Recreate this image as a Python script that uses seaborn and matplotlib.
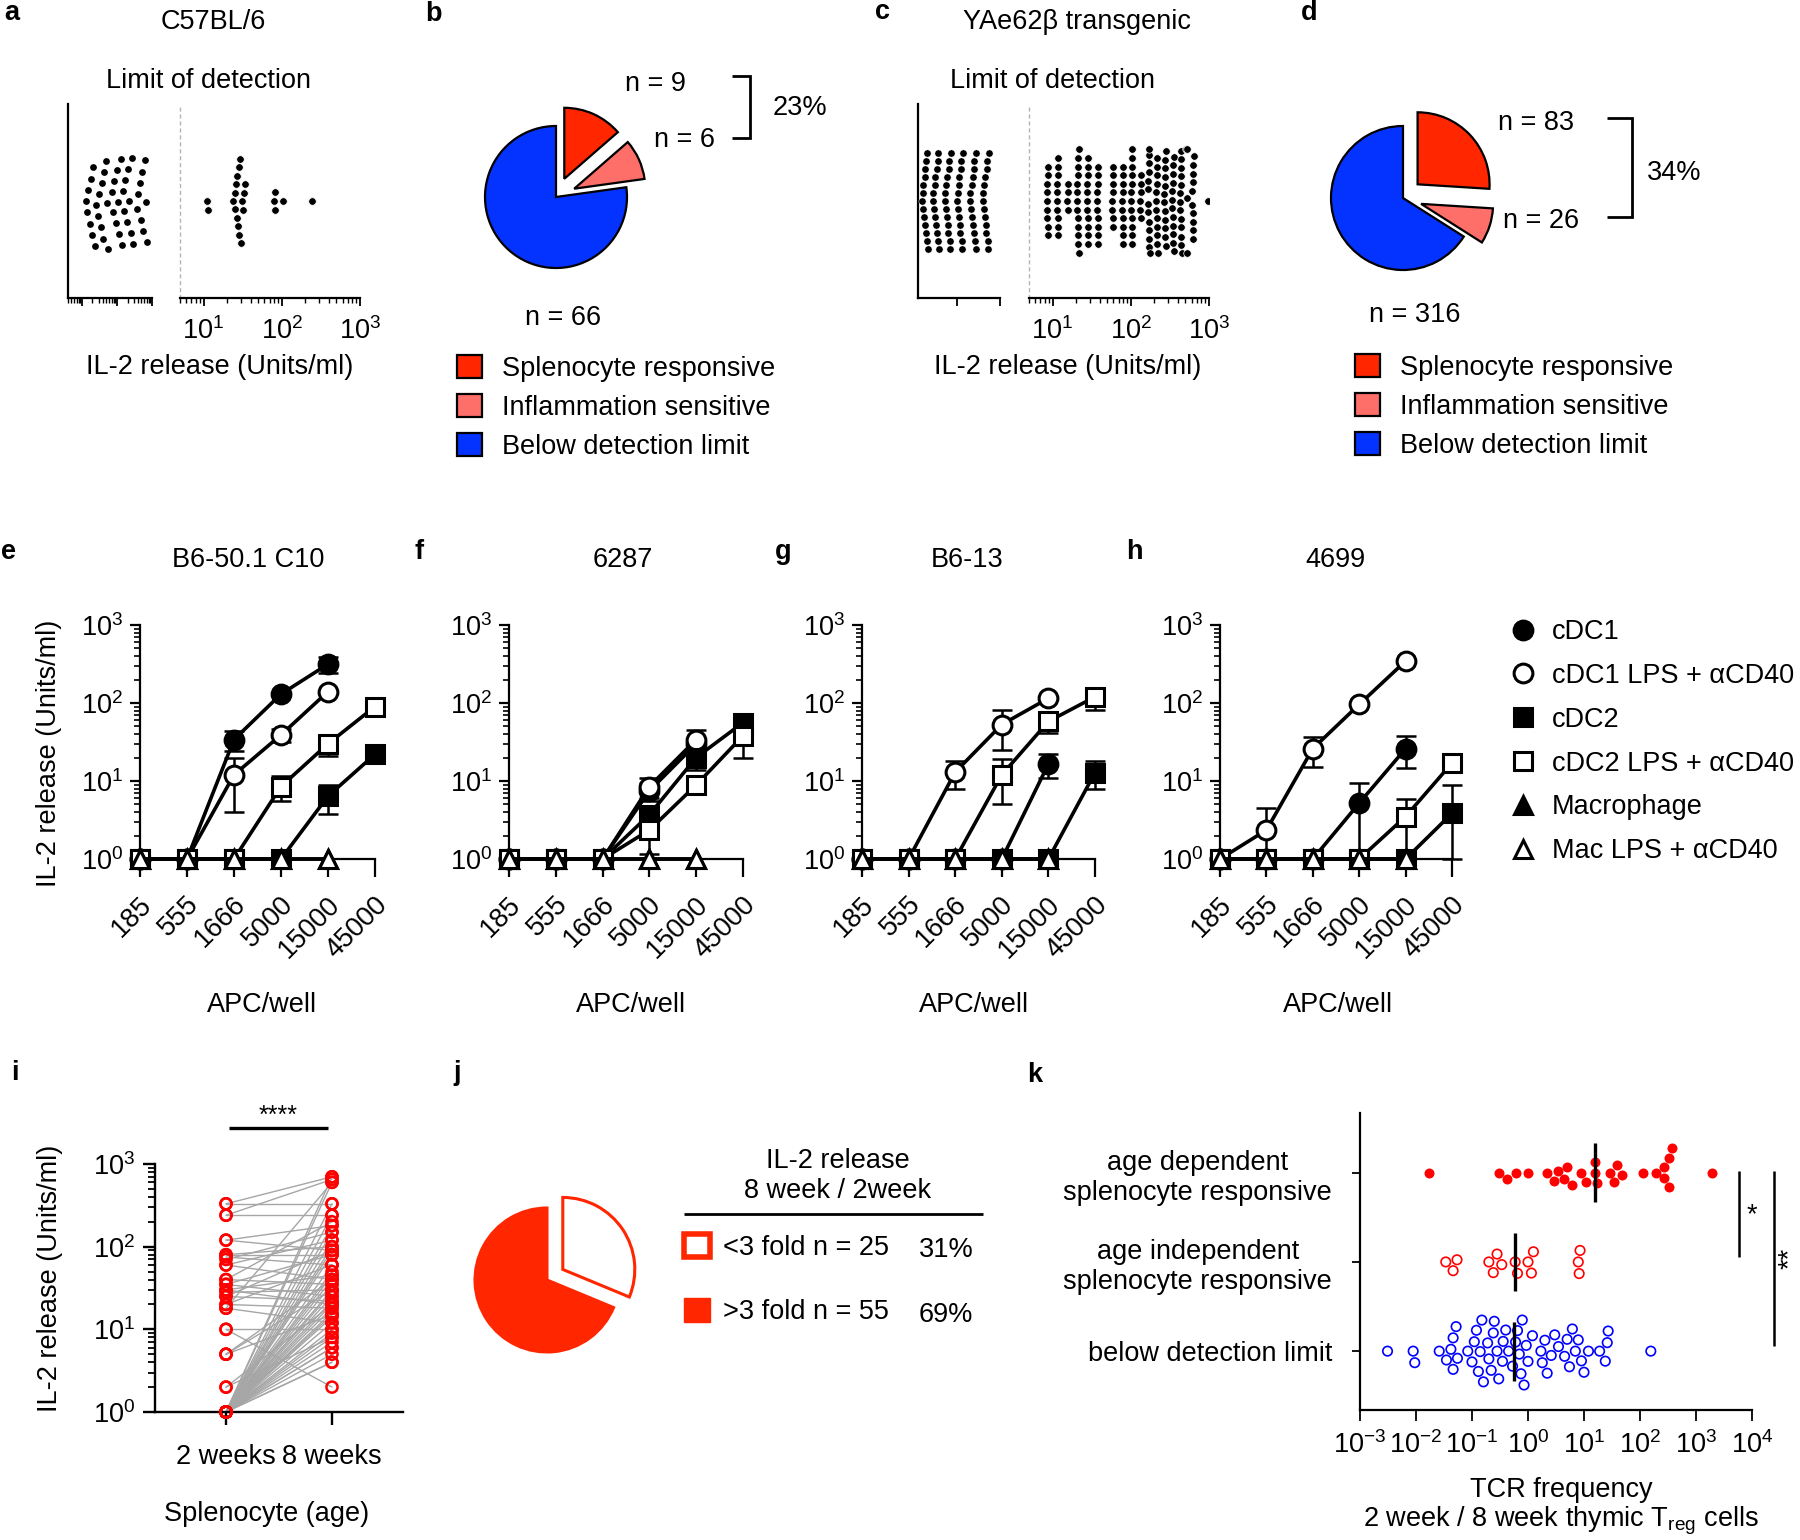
import numpy as np
import pandas as pd
import matplotlib
matplotlib.use("Agg")
import matplotlib.pyplot as plt
from matplotlib.lines import Line2D
from matplotlib.patches import Patch
from matplotlib.ticker import NullFormatter
from matplotlib.transforms import ScaledTranslation
import seaborn as sns

W, H = 1800, 1540
FS = 19.5
RED = "#FF2600"
SALMON = "#FF6F69"
BLUE = "#0433FF"
nan = np.nan

# ---------------- a / c : IL-2 release of single hybridomas ----------------
a_below = [13, 14, 15.3, 16.6, 18, 19.6, 21.3, 23.2, 25.3,
           29, 31.5, 34, 37, 40, 44, 48, 52, 56,
           72, 78, 85, 92, 100, 109, 118, 128, 140,
           148, 160, 175, 190, 207, 225, 245, 266, 290,
           373, 405, 440, 480, 520, 565, 615, 670, 730]
a_resp = [11, 11.3, 24, 25, 25.5, 26, 26.5, 27, 27.5, 28, 28.5, 29, 30, 31, 32,
          33, 34, 80, 81, 82, 105, 245]

c_below = [2.45, 2.6, 2.7, 2.85, 3.0, 3.2, 3.4, 3.55, 3.75, 3.95, 4.2, 4.4, 4.65,
           7.9, 8.3, 8.8, 9.3, 9.8, 10.3, 10.9, 11.5, 12.1, 12.8, 13.5, 14.2, 15,
           28, 29.5, 31, 33, 35, 37, 39, 41, 43, 45.5, 48, 50.5, 53,
           102, 108, 114, 120, 126, 133, 140, 148, 156, 165, 174, 183, 193,
           408, 430, 455, 480, 505, 535, 565, 595, 625, 660, 700, 740, 780,
           1620, 1710, 1800, 1900, 2000, 2120, 2230, 2350, 2480, 2620, 2760, 2910, 3070]
c_resp = [8.4, 8.5, 8.5, 8.6, 8.6, 8.7, 8.7, 8.8, 8.8,
          11.3, 11.4, 11.5, 11.5, 11.6, 11.6, 11.7, 11.8, 11.8, 11.9,
          15.4, 15.6, 15.7, 15.9,
          20.5, 20.6, 20.7, 20.8, 20.9, 21, 21, 21.1, 21.2, 21.3, 21.4, 21.5, 21.6,
          27.5, 27.6, 27.7, 27.8, 28, 28, 28.1, 28.2, 28.4, 28.5, 28.6,
          37, 37.2, 37.4, 37.6, 37.8, 37.9, 38, 38.2, 38.4, 38.6,
          58, 58.3, 58.6, 59, 59.2, 59.5, 59.8, 60,
          78, 78.2, 78.5, 78.8, 79, 79.2, 79.5, 79.8, 80, 80.3,
          101, 101.5, 102, 102.3, 102.6, 103, 103.3, 103.6, 104, 104.4, 104.8, 105,
          132, 133, 134, 134.5, 135, 136,
          166, 167, 167.5, 168, 168.5, 169, 170, 170.5, 171, 172, 172.5, 173, 174,
          211, 212, 213, 213.5, 214, 215, 215.5, 216, 217, 218, 219, 220,
          268, 269, 270, 271, 272, 273, 274, 275, 276, 277, 278, 279,
          338, 340, 341, 342, 344, 345, 346, 348, 349, 350, 352, 353,
          428, 430, 431, 433, 434, 436, 437, 438, 440, 441, 443, 444, 446,
          515, 520, 525, 530,
          612, 615, 618, 620, 622, 624, 626, 629, 632, 635,
          970]

# ---------------- b / d : pie shares ----------------
pie_labels = ["Splenocyte responsive", "Inflammation sensitive", "Below detection limit"]
pie_colors = [RED, SALMON, BLUE]
b_share = [13.6, 9.2, 77.2]
b_n = ["n = 9", "n = 6", "n = 66"]
d_share = [26, 8, 66]
d_n = ["n = 83", "n = 26", "n = 316"]

# ---------------- e-h : titration on APC subsets ----------------
apc = ["185", "555", "1666", "5000", "15000", "45000"]
clones = ["B6-50.1 C10", "6287", "B6-13", "4699"]
apc_types = ["cDC1", "cDC1 LPS + αCD40", "cDC2", "cDC2 LPS + αCD40",
             "Macrophage", "Mac LPS + αCD40"]
cdc1 = [[1, 1, 34, 130, 315, nan], [1, 1, 1, 7.5, 30, nan],
        [1, 1, 1, 1, 16.5, nan], [1, 1, 1, 5.2, 26, nan]]
cdc1_lps = [[1, 1, 12, 39, 140, nan], [1, 1, 1, 8.5, 34, nan],
            [1, 1, 13, 53, 115, nan], [1, 2.35, 26, 96, 345, nan]]
cdc2 = [[1, 1, 1, 1, 6.4, 22], [1, 1, 1, 3.7, 20, 56],
        [1, 1, 1, 1, 1, 12.8], [1, 1, 1, 1, 1, 3.85]]
cdc2_lps = [[1, 1, 1, 8.5, 30, 90], [1, 1, 1, 2.35, 8.9, 38],
            [1, 1, 1, 12, 58, 120], [1, 1, 1, 1, 3.5, 17]]
mac = [[1, 1, 1, 1, 1, nan], [1, 1, 1, 1, 1, nan],
       [1, 1, 1, 1, 1, nan], [1, 1, 1, 1, 1, nan]]
mac_lps = [[1, 1, 1, 1, 1, nan], [1, 1, 1, 1, 1, nan],
           [1, 1, 1, 1, 1, nan], [1, 1, 1, 1, 1, nan]]
# SEM (0 = no bar drawn)
cdc1_sem = [[0, 0, 10, 0, 70, 0], [0, 0, 0, 2, 0, 0], [0, 0, 0, 0, 5.5, 0], [0, 0, 0, 4.3, 11.5, 0]]
cdc1_lps_sem = [[0, 0, 8, 7, 0, 0], [0, 0, 0, 2.5, 11, 0], [0, 0, 5, 28, 0, 0], [0, 2.2, 11, 0, 0, 0]]
cdc2_sem = [[0, 0, 0, 0, 2.6, 0], [0, 0, 0, 1, 6, 0], [0, 0, 0, 0, 0, 5], [0, 0, 0, 0, 0, 5]]
cdc2_lps_sem = [[0, 0, 0, 3, 9, 0], [0, 0, 0, 1.2, 0, 18], [0, 0, 0, 7, 17, 38], [0, 0, 0, 0, 2.3, 4]]
zero_sem = [[0] * 6] * 4

# ---------------- i : paired splenocyte responses ----------------
i_2wk = [330, 330, 240, 240, 120, 120, 80, 80, 75, 70, 60, 60, 40, 40, 35, 35, 30, 30,
         28, 25, 25, 20, 20, 18, 18, 10, 10, 5, 5, 5, 2, 2,
         1, 1, 1, 1, 1, 1, 1, 1, 1, 1, 1, 1, 1, 1, 1, 1, 1,
         1, 1, 1, 1, 1, 1, 1, 1, 1, 1, 1, 1, 1, 1, 1, 1, 1]
i_8wk = [330, 700, 240, 650, 180, 90, 80, 100, 60, 150, 40, 120, 35, 200, 25, 80, 20, 45,
         30, 22, 90, 18, 60, 600, 12, 10, 2, 40, 30, 15, 20, 8,
         700, 600, 330, 240, 180, 150, 120, 100, 90, 80, 60, 45, 40, 35, 30, 25, 22,
         20, 18, 15, 12, 10, 8, 7, 6, 5, 4, 4, 6, 9, 14, 16, 28, 50]
ages = ["2 weeks", "8 weeks"]

# ---------------- j : fold change pie ----------------
j_counts = [25, 55]
j_labels = ["<3 fold n = 25", ">3 fold n = 55"]
j_pct = ["31%", "69%"]

# ---------------- k : TCR frequency ratio ----------------
k_groups = ["age dependent\nsplenocyte responsive",
            "age independent\nsplenocyte responsive",
            "below detection limit"]
k_dep = [0.017, 0.30, 0.42, 0.62, 1.0, 2.2, 2.9, 3.4, 4.4, 5.0, 6.2, 8.9, 11, 16, 16,
         17, 29, 34, 39, 48, 112, 190, 270, 270, 330, 335, 380, 1950]
k_indep = [0.034, 0.046, 0.054, 0.20, 0.24, 0.28, 0.34, 0.59, 0.65, 1.0, 1.15, 1.25,
           7.9, 8.2, 8.5]
k_below = [0.0031, 0.0089, 0.0095, 0.026, 0.035, 0.042, 0.046, 0.046, 0.052, 0.055,
           0.084, 0.10, 0.11, 0.12, 0.13, 0.14, 0.15, 0.16, 0.19, 0.2, 0.22, 0.24,
           0.25, 0.28, 0.3, 0.35, 0.36, 0.4, 0.45, 0.53, 0.6, 0.65, 0.7, 0.75, 0.79,
           0.85, 0.93, 1.0, 1.2, 1.7, 1.8, 2.0, 2.2, 2.6, 3.0, 3.5, 4.5, 5.0, 5.5,
           6.2, 7.0, 7.9, 9.0, 10, 12, 19, 24, 26, 27, 156]


sns.set_theme(style="ticks")
plt.rcParams["font.family"] = ["Liberation Sans", "DejaVu Sans"]
plt.rcParams.update({
    "font.size": FS, "xtick.labelsize": FS, "ytick.labelsize": FS,
    "axes.labelsize": FS, "axes.edgecolor": "black", "axes.linewidth": 1.6,
    "xtick.color": "black", "ytick.color": "black", "text.color": "black",
    "axes.labelcolor": "black",
    "mathtext.fontset": "custom", "mathtext.rm": "Liberation Sans",
    "mathtext.it": "Liberation Sans:italic", "mathtext.bf": "Liberation Sans:bold",
    "mathtext.sf": "Liberation Sans",
})

fig = plt.figure(figsize=(W / 100, H / 100), dpi=100)


def px_axes(x0, y0, x1, y1):
    return fig.add_axes([x0 / W, 1 - y1 / H, (x1 - x0) / W, (y1 - y0) / H])


def dec_labels(ticks):
    return [f"$10^{{{int(round(np.log10(t)))}}}$" for t in ticks]


def style_dots(ax, xlim, ticks=None, dotted=False):
    ax.set_xlim(*xlim)
    ax.set_ylim(0.75, -0.75)
    ax.set_yticks([])
    ax.set_xlabel("")
    ax.set_ylabel("")
    sns.despine(ax=ax)
    ax.tick_params(axis="x", which="major", length=6, width=1.3, pad=8)
    ax.tick_params(axis="x", which="minor", length=3.5, width=1.0)
    ax.xaxis.set_minor_formatter(NullFormatter())
    if ticks:
        ax.set_xticks(ticks, dec_labels(ticks))
    else:
        ax.xaxis.set_major_formatter(NullFormatter())
    if dotted:
        ax.spines["left"].set_linestyle((0, (2, 3)))
        ax.spines["left"].set_color("#b5b5b5")
        ax.spines["left"].set_linewidth(1.0)


# ---------- a ----------
ax = px_axes(68, 104, 152, 298)
sns.swarmplot(x=a_below, ax=ax, color="black", size=6.4, linewidth=1.5,
              edgecolor="white", log_scale=True)
style_dots(ax, (4, 1000))
ax = px_axes(180, 104, 360, 298)
sns.swarmplot(x=a_resp, ax=ax, color="black", size=5.4, linewidth=0.5,
              edgecolor="white", log_scale=True)
style_dots(ax, (5, 1000), [10, 100, 1000], dotted=True)

# ---------- c ----------
ax = px_axes(918, 104, 1000, 298)
sns.swarmplot(x=c_below, ax=ax, color="black", size=5.2, linewidth=0.3,
              edgecolor="white", log_scale=True)
style_dots(ax, (1.6, 10000))
ax = px_axes(1029, 104, 1209, 298)
sns.swarmplot(x=c_resp, ax=ax, color="black", size=5.4, linewidth=0.5,
              edgecolor="white", log_scale=True)
style_dots(ax, (5, 1000), [10, 100, 1000], dotted=True)


# ---------- b / d pies ----------
def draw_pie(box, share, explode, radius, anchor):
    ax = px_axes(*box)
    wedges, _ = ax.pie(share, colors=pie_colors, startangle=90, counterclock=False,
                       explode=explode, radius=radius,
                       wedgeprops=dict(edgecolor="black", linewidth=1.6))
    ax.set_xlim(-1, 1)
    ax.set_ylim(-1, 1)
    ax.set_aspect("equal")
    ax.axis("off")
    ax.legend(wedges, pie_labels, loc="upper left",
              bbox_to_anchor=(anchor[0] / W, 1 - anchor[1] / H),
              bbox_transform=fig.transFigure, frameon=False, fontsize=FS,
              handlelength=0.93, handleheight=0.93, handletextpad=0.74,
              labelspacing=0.45, borderpad=0, borderaxespad=0)


draw_pie((456, 97, 656, 297), b_share, [0.2, 0.2, 0], 0.71, (457, 355))
draw_pie((1303, 98, 1503, 298), d_share, [0.2, 0.19, 0], 0.72, (1355, 354))

# ---------- e-h titrations ----------
series = [
    (cdc1, cdc1_sem, "o", True),
    (cdc1_lps, cdc1_lps_sem, "o", False),
    (cdc2, cdc2_sem, "s", True),
    (cdc2_lps, cdc2_lps_sem, "s", False),
    (mac, zero_sem, "^", True),
    (mac_lps, zero_sem, "^", False),
]
boxes = [(140, 375), (509, 743), (862, 1095), (1220, 1452)]
label_x = [0.52, 0.52, 0.48, 0.51]
for k, (x0, x1) in enumerate(boxes):
    ax = px_axes(x0, 625, x1, 859)
    for z, (vals, sems, mk, filled) in enumerate(series):
        df = pd.DataFrame({"APC/well": apc, "IL-2": vals[k]})
        sns.lineplot(data=df, x="APC/well", y="IL-2", ax=ax, color="black",
                     linewidth=2.6, marker=mk, markersize=13.5,
                     markerfacecolor="black" if filled else "white",
                     markeredgecolor="black", markeredgewidth=2.2,
                     clip_on=False, zorder=3 + z)
        sem = np.array(sems[k], dtype=float)
        mean = np.array(vals[k], dtype=float)
        keep = sem > 0
        if keep.any():
            # bars are cut at the axis floor (10^0)
            lower = np.minimum(sem[keep], mean[keep] - 1.0)
            ax.errorbar(np.array(apc)[keep], mean[keep], yerr=[lower, sem[keep]],
                        fmt="none", ecolor="black", elinewidth=1.8,
                        capsize=7, capthick=1.8, zorder=2.5, clip_on=False)
    ax.set_yscale("log")
    ax.set_ylim(1, 1000)
    ax.set_xlim(0, 5)
    ax.set_yticks([1, 10, 100, 1000], dec_labels([1, 10, 100, 1000]))
    ax.yaxis.set_minor_formatter(NullFormatter())
    ax.tick_params(axis="y", which="major", length=7, width=1.6, pad=5)
    ax.tick_params(axis="y", which="minor", length=4, width=1.2)
    ax.tick_params(axis="x", length=13, width=1.6, pad=17)
    for lbl in ax.get_xticklabels():
        lbl.set(rotation=45, ha="right", va="center", rotation_mode="anchor")
        lbl.set_transform(lbl.get_transform() + ScaledTranslation(0.08, 0, fig.dpi_scale_trans))
    sns.despine(ax=ax)
    ax.set_xlabel("APC/well")
    ax.xaxis.set_label_coords(label_x[k], -0.57)
    if k == 0:
        ax.set_ylabel("IL-2 release (Units/ml)")
        ax.yaxis.set_label_coords(-0.33, 0.45)
    else:
        ax.set_ylabel("")
    if k == 3:
        handles = [Line2D([], [], ls="none", marker=mk, ms=13.5,
                          mfc="black" if filled else "white", mec="black", mew=2.2)
                   for _, _, mk, filled in series]
        ax.legend(handles, apc_types, loc="upper left",
                  bbox_to_anchor=(1509 / W, 1 - 619 / H), bbox_transform=fig.transFigure,
                  frameon=False, fontsize=FS, handlelength=1.0, handletextpad=0.57,
                  labelspacing=0.66, borderpad=0, borderaxespad=0)

# ---------- i paired ----------
n_pairs = len(i_2wk)
df_i = pd.DataFrame({
    "pair": list(range(n_pairs)) * 2,
    "age": [ages[0]] * n_pairs + [ages[1]] * n_pairs,
    "IL-2": i_2wk + i_8wk,
})
ax = px_axes(155, 1164, 403, 1412)
ax.set_yscale("log")
sns.stripplot(data=df_i, x="age", y="IL-2", order=ages, jitter=False, size=8,
              facecolor="none", edgecolor="#FF0000", linewidth=1.8, ax=ax,
              zorder=4, clip_on=False)
sns.lineplot(data=df_i, x="age", y="IL-2", units="pair", estimator=None,
             color="#A6A6A6", linewidth=1.0, ax=ax, zorder=2, sort=False)
ax.set_ylim(1, 1000)
ax.set_xlim(-0.67, 1.67)
ax.set_yticks([1, 10, 100, 1000], dec_labels([1, 10, 100, 1000]))
ax.yaxis.set_minor_formatter(NullFormatter())
ax.set_xticks([0, 1], ages)
ax.tick_params(axis="y", which="major", length=9, width=1.7, pad=5)
ax.tick_params(axis="y", which="minor", length=5, width=1.3)
ax.tick_params(axis="x", length=9, width=1.7, pad=14)
for sp in ["left", "bottom"]:
    ax.spines[sp].set_linewidth(1.7)
sns.despine(ax=ax)
ax.set_xlabel("Splenocyte (age)")
ax.xaxis.set_label_coords(0.45, -0.36)
ax.set_ylabel("IL-2 release (Units/ml)")
ax.yaxis.set_label_coords(-0.37, 0.54)

# ---------- j pie ----------
ax = px_axes(447, 1180, 647, 1380)
wedges, _ = ax.pie(j_counts, colors=["white", RED], startangle=90, counterclock=False,
                   explode=[0.19, 0], radius=0.72,
                   wedgeprops=dict(edgecolor=RED, linewidth=2.2))
ax.set_xlim(-1, 1)
ax.set_ylim(-1, 1)
ax.set_aspect("equal")
ax.axis("off")
j_handles = [Patch(facecolor="white", edgecolor=RED, linewidth=4),
             Patch(facecolor=RED, edgecolor=RED, linewidth=1)]
ax.legend(j_handles, j_labels, loc="upper left",
          bbox_to_anchor=(684 / W, 1 - 1234 / H), bbox_transform=fig.transFigure,
          frameon=False, fontsize=FS, handlelength=0.95, handleheight=0.95,
          handletextpad=0.5, labelspacing=1.38, borderpad=0, borderaxespad=0)

# ---------- k TCR frequency ----------
df_k = pd.DataFrame({
    "group": [k_groups[0]] * len(k_dep) + [k_groups[1]] * len(k_indep)
             + [k_groups[2]] * len(k_below),
    "freq": k_dep + k_indep + k_below,
})
ax = px_axes(1360, 1113, 1752, 1410)
sns.swarmplot(data=df_k[df_k.group == k_groups[0]], x="freq", y="group", order=k_groups,
              color="#FF0000", size=7.2, linewidth=0, ax=ax, log_scale=True)
sns.swarmplot(data=df_k[df_k.group == k_groups[1]], x="freq", y="group", order=k_groups,
              facecolor="none", edgecolor="#FF0000", size=6.8, linewidth=1.2, ax=ax,
              log_scale=True)
sns.swarmplot(data=df_k[df_k.group == k_groups[2]], x="freq", y="group", order=k_groups,
              facecolor="none", edgecolor="#0000FF", size=6.8, linewidth=1.2, ax=ax,
              log_scale=True)
for pos, g in enumerate(k_groups):
    ax.vlines(np.median(df_k.loc[df_k.group == g, "freq"]), pos - 0.33, pos + 0.33,
              color="black", lw=2.4, zorder=5)
ax.set_xlim(1e-3, 1e4)
ax.set_ylim(2.66, -0.67)
kt = [1e-3, 1e-2, 1e-1, 1, 10, 100, 1000, 1e4]
ax.set_xticks(kt, dec_labels(kt))
ax.xaxis.set_minor_formatter(NullFormatter())
ax.set_yticks(range(3), k_groups)
for lbl in ax.get_yticklabels():
    lbl.set_multialignment("center")
ax.tick_params(axis="y", length=6, width=1.3, pad=14)
ax.tick_params(axis="x", which="major", length=8, width=1.3, pad=7)
ax.tick_params(axis="x", which="minor", length=4, width=1.0)
sns.despine(ax=ax)
ax.set_ylabel("")
ax.set_xlabel("TCR frequency\n2 week / 8 week thymic T$_{\\mathrm{reg}}$ cells",
              linespacing=1.1)
ax.xaxis.set_label_coords(0.513, -0.225)

# ---------- text and brackets ----------
ov = fig.add_axes([0, 0, 1, 1], zorder=10)
ov.set_xlim(0, W)
ov.set_ylim(H, 0)
ov.axis("off")


def put(x, y, s, **kw):
    kw.setdefault("fontsize", FS)
    kw.setdefault("ha", "center")
    kw.setdefault("va", "baseline")
    ov.text(x, y, s, **kw)


def rule(xs, ys, lw=1.8):
    ov.plot(xs, ys, color="black", lw=lw, solid_capstyle="butt", solid_joinstyle="miter")


for letter, x, y in [("a", 12, 20), ("b", 433, 21), ("c", 883, 19), ("d", 1309, 20),
                     ("e", 9, 559), ("f", 419, 559), ("g", 783, 559), ("h", 1134, 559),
                     ("i", 15, 1080), ("j", 457, 1080), ("k", 1035, 1082)]:
    put(x, y, letter, fontweight="bold")

put(213, 29, "C57BL/6")
put(208, 88, "Limit of detection")
put(220, 374, "IL-2 release (Units/ml)")
put(1077, 29, "YAe62β transgenic")
put(1053, 88, "Limit of detection")
put(1068, 374, "IL-2 release (Units/ml)")

put(655, 91, b_n[0])
put(685, 147, b_n[1])
put(563, 325, b_n[2])
rule([732, 750, 750, 732], [76, 76, 138, 138], lw=2.0)
put(800, 115, "23%")

put(1536, 130, d_n[0])
put(1541, 228, d_n[1])
put(1415, 322, d_n[2])
rule([1607, 1632, 1632, 1607], [118, 118, 217, 217], lw=2.0)
put(1674, 180, "34%")

for name, x in zip(clones, [248, 623, 967, 1335]):
    put(x, 567, name)

rule([229, 328], [1128, 1128], lw=2.4)
put(278, 1123, "****", fontsize=18)

put(838, 1168, "IL-2 release")
put(838, 1198, "8 week / 2week")
rule([684, 983], [1214, 1214], lw=2.0)
put(919, 1257, j_pct[0], ha="left")
put(919, 1322, j_pct[1], ha="left")

rule([1739, 1739], [1171, 1257], lw=1.8)
put(1752, 1222, "*")
rule([1774, 1774], [1171, 1346], lw=1.8)
put(1790, 1258, "**", rotation=90, va="center")

fig.savefig("out.png", dpi=100)
